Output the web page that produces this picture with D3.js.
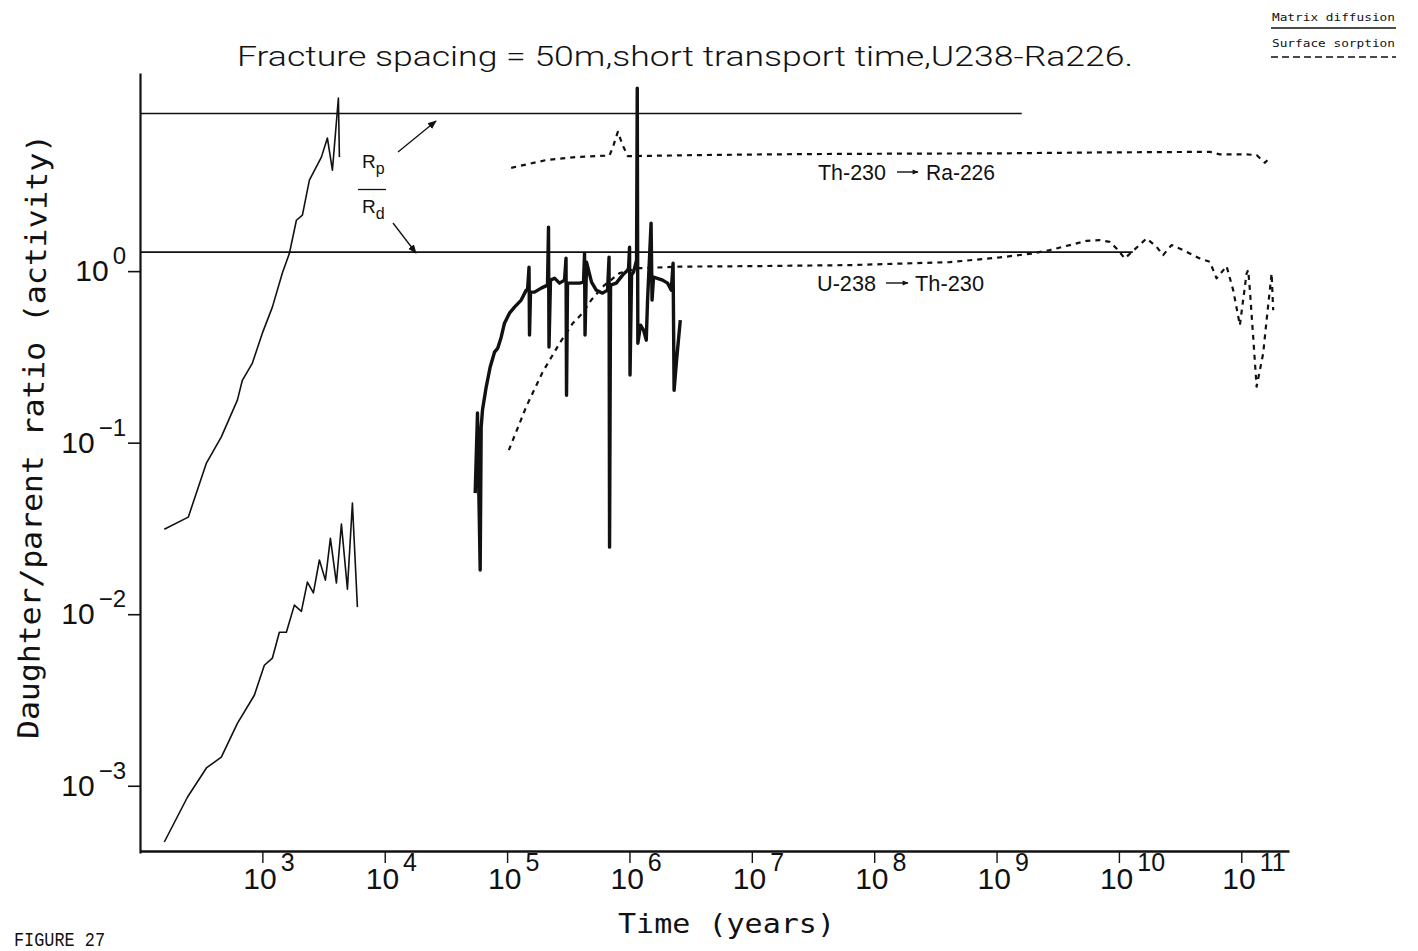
<!DOCTYPE html>
<html><head><meta charset="utf-8">
<script src="https://cdn.jsdelivr.net/npm/d3@7"></script>
<style>body{margin:0;background:#fff}svg{display:block}</style>
</head><body>
<svg id="chart" width="1418" height="951"></svg>
<script>
// ---------- data ----------
const xTickExponents = [3, 4, 5, 6, 7, 8, 9, 10, 11];
const yTickExponents = [0, -1, -2, -3];

// thin solid curve, upper left
const solidATime  = [158, 248, 349, 462, 625, 686, 829, 1000, 1207, 1457, 1663, 1897, 2124, 2423, 3037, 3400, 3736, 4182, 4262];
const solidARatio = [0.0313, 0.0368, 0.0760, 0.108, 0.177, 0.231, 0.291, 0.435, 0.617, 0.974, 1.27, 1.98, 2.12, 3.39, 4.62, 5.97, 3.88, 10.2, 4.62];

// thin solid curve, lower left
const solidBTime  = [158, 244, 349, 462, 625, 860, 1038, 1207, 1377, 1571, 1826, 2084, 2333, 2612, 2925, 3274, 3597, 4029, 4426, 4955, 5443, 5981];
const solidBRatio = [4.70e-4, 8.57e-4, 1.27e-3, 1.47e-3, 2.31e-3, 3.37e-3, 5.04e-3, 5.54e-3, 7.85e-3, 7.85e-3, 0.0113, 0.0104, 0.0154, 0.0133, 0.0207, 0.0158, 0.0277, 0.0152, 0.0335, 0.0140, 0.0444, 0.0110];

// heavy solid curve (matrix diffusion)
const solidCTime  = [54860, 57280, 60260, 61400, 62930, 67480, 72740, 78890, 83950, 89480,
  95220, 104600, 115000, 130400, 143300, 146900, 151100, 152500, 155400, 167500,
  190000, 213900, 218000, 220000, 226300, 244100, 268200, 294700, 303100, 306000,
  311800, 342400, 390800, 421400, 429500, 433500, 445900, 489900, 535200, 602600,
  662200, 681200, 687700, 700700, 780100, 878400, 965000, 983100, 1002000, 1011000,
  1040000, 1080000, 1143000, 1158000, 1171000, 1232000, 1304000, 1372000, 1406000, 1502000,
  1530000, 1574000, 1865000, 2049000, 2197000, 2273000, 2316000, 2427000, 2603000];
const solidCRatio = [0.0508, 0.149, 0.0181, 0.123, 0.155, 0.211, 0.276, 0.337, 0.356, 0.412,
  0.497, 0.569, 0.617, 0.678, 0.775, 0.775, 1.055, 0.424, 0.754, 0.754,
  0.796, 0.829, 1.805, 0.361, 0.886, 0.910, 0.851, 0.886, 1.191, 0.189,
  0.851, 0.851, 0.851, 0.863, 1.273, 0.424, 1.128, 0.863, 0.775, 0.744,
  0.775, 1.207, 0.0246, 0.829, 0.851, 0.948, 1.013, 1.041, 1.380, 0.248,
  0.948, 0.987, 1.159, 11.67, 0.380, 0.484, 0.453, 0.396, 0.678, 1.905,
  0.678, 0.923, 0.886, 0.851, 0.775, 1.113, 0.202, 0.303, 0.518];

// dashed curve U-238 -> Th-230 (surface sorption)
const dashedUTime  = [1.033e5, 1.433e5, 1.958e5, 2.682e5, 3.444e5, 4.135e5, 4.871e5, 6.257e5, 8.299e5, 1.2095e6,
  2.568e6, 9.594e6, 6.306e7, 4.143e8, 1.062e9, 1.977e9, 2.723e9, 3.968e9, 5.433e9, 6.982e9,
  8.425e9, 9.559e9, 1.117e10, 1.307e10, 1.682e10, 2.030e10, 2.298e10, 2.692e10, 3.350e10, 4.587e10,
  5.537e10, 6.281e10, 7.582e10, 8.588e10, 9.741e10, 1.105e11, 1.139e11, 1.176e11, 1.251e11, 1.334e11,
  1.510e11, 1.610e11, 1.770e11, 1.823e11];
const dashedURatio = [0.0904, 0.162, 0.259, 0.379, 0.497, 0.569, 0.678, 0.829, 0.974, 1.041,
  1.062, 1.069, 1.084, 1.128, 1.202, 1.268, 1.326, 1.418, 1.502, 1.516,
  1.482, 1.356, 1.186, 1.313, 1.551, 1.386, 1.240, 1.418, 1.326, 1.186,
  1.133, 0.907, 1.069, 0.775, 0.484, 0.970, 1.013, 0.775, 0.414, 0.212,
  0.331, 0.518, 0.970, 0.592];

// dashed curve Th-230 -> Ra-226 (surface sorption)
const dashedThTime  = [1.080e5, 2.088e5, 3.673e5, 6.877e5, 7.413e5, 8.038e5, 8.784e5, 9.703e5, 3.743e6, 2.459e7,
  1.616e8, 1.062e9, 6.982e9, 5.537e10, 6.683e10, 1.105e11, 1.334e11, 1.559e11, 1.737e11];
const dashedThRatio = [4.00, 4.44, 4.62, 4.72, 5.43, 6.49, 5.43, 4.68, 4.75, 4.81,
  4.84, 4.86, 4.92, 4.96, 4.79, 4.79, 4.75, 4.28, 4.64];

// Rp/Rd reference levels
const refRatio   = [8.3, 1.29];
const refEndTime = [1.607e9, 1.30e10];

const titleText = "Fracture spacing = 50m,short transport time,U238-Ra226.";
const xLabel = "Time (years)";
const yLabel = "Daughter/parent ratio (activity)";
const legendLabels = ["Matrix diffusion", "Surface sorption"];
const curveLabelParents = ["Th-230", "U-238"];
const curveLabelDaughters = ["Ra-226", "Th-230"];
const figureLabel = "FIGURE  27";

// ---------- drawing ----------
const svg = d3.select('#chart');
const ink = '#111';
const x = d3.scaleLog().domain([1e2, Math.pow(10, 11.39)]).range([140, 1289]);
const y = d3.scaleLog().domain([Math.pow(10, -3.392), Math.pow(10, 1.155)]).range([853, 73]);

const defs = svg.append('defs');
defs.append('marker').attr('id', 'ah').attr('viewBox', '0 0 10 10')
  .attr('refX', 9).attr('refY', 5).attr('markerWidth', 9).attr('markerHeight', 9)
  .attr('orient', 'auto').attr('markerUnits', 'userSpaceOnUse')
  .append('path').attr('d', 'M0,1 L10,5 L0,9 Z').attr('fill', ink);
defs.append('marker').attr('id', 'ahs').attr('viewBox', '0 0 10 10')
  .attr('refX', 9).attr('refY', 5).attr('markerWidth', 8).attr('markerHeight', 6)
  .attr('orient', 'auto').attr('markerUnits', 'userSpaceOnUse')
  .append('path').attr('d', 'M0,1 L10,5 L0,9 Z').attr('fill', ink);

// axes
const xAxis = d3.axisBottom(x).tickValues(xTickExponents.map(e => Math.pow(10, e)))
  .tickSize(12).tickSizeOuter(0).tickFormat('');
svg.append('g').attr('transform', 'translate(0,851)').call(xAxis)
  .call(g => g.select('.domain').attr('stroke', ink).attr('stroke-width', 2.6))
  .call(g => g.selectAll('.tick line').attr('stroke', ink).attr('stroke-width', 1.4));

const yAxis = d3.axisLeft(y).tickValues(yTickExponents.map(e => Math.pow(10, e)))
  .tickSize(12).tickSizeOuter(0).tickFormat('');
svg.append('g').attr('transform', 'translate(140,0)').call(yAxis)
  .call(g => g.select('.domain').attr('stroke', ink).attr('stroke-width', 2.2))
  .call(g => g.selectAll('.tick line').attr('stroke', ink).attr('stroke-width', 1.6));

// x tick labels
const labFont = 'Liberation Sans, Arial, sans-serif';
xTickExponents.forEach(e => {
  const t = svg.append('text').attr('x', x(Math.pow(10, e)) - 19).attr('y', 889)
    .attr('font-family', labFont).attr('fill', ink);
  t.append('tspan').attr('font-size', 30).text('10');
  t.append('tspan').attr('font-size', 25).attr('dx', 4).attr('dy', -18).text(String(e));
});
// y tick labels
yTickExponents.forEach(e => {
  const t = svg.append('text').attr('x', 126).attr('y', y(Math.pow(10, e)) + 10)
    .attr('text-anchor', 'end').attr('font-family', labFont).attr('fill', ink);
  t.append('tspan').attr('font-size', 30).text('10');
  t.append('tspan').attr('font-size', 24).attr('dx', 4).attr('dy', -17)
    .text(e < 0 ? '\u2212' + Math.abs(e) : String(e));
});

// reference lines Rp/Rd
refRatio.forEach((v, i) => {
  svg.append('line').attr('x1', x(1e2)).attr('x2', x(refEndTime[i]))
    .attr('y1', y(v)).attr('y2', y(v)).attr('stroke', ink).attr('stroke-width', 1.6);
});

// curves
const line = d3.line().x(d => x(d[0])).y(d => y(d[1]));
function drawCurve(times, ratios, width, dash) {
  const pts = times.map((t, i) => [t, ratios[i]]);
  const p = svg.append('path').datum(pts).attr('d', line).attr('fill', 'none')
    .attr('stroke', ink).attr('stroke-width', width)
    .attr('stroke-linejoin', 'round').attr('stroke-linecap', 'butt');
  if (dash) p.attr('stroke-dasharray', dash);
  return p;
}
drawCurve(dashedUTime, dashedURatio, 2.2, '5,5');
drawCurve(dashedThTime, dashedThRatio, 2.2, '5,5');
drawCurve(solidATime, solidARatio, 1.6);
drawCurve(solidBTime, solidBRatio, 1.6);
drawCurve(solidCTime, solidCRatio, 3.4);

// Rp / Rd annotation
const ann = svg.append('g').attr('font-family', labFont).attr('fill', ink);
const r1 = ann.append('text').attr('x', 362).attr('y', 168);
r1.append('tspan').attr('font-size', 19).text('R');
r1.append('tspan').attr('font-size', 16).attr('dy', 6).text('p');
ann.append('line').attr('x1', 358).attr('x2', 386).attr('y1', 189.5).attr('y2', 189.5)
  .attr('stroke', ink).attr('stroke-width', 1.3);
const r2 = ann.append('text').attr('x', 362).attr('y', 213);
r2.append('tspan').attr('font-size', 19).text('R');
r2.append('tspan').attr('font-size', 16).attr('dy', 6).text('d');
svg.append('line').attr('x1', 398).attr('y1', 152).attr('x2', 436).attr('y2', 121)
  .attr('stroke', ink).attr('stroke-width', 1.3).attr('marker-end', 'url(#ah)');
svg.append('line').attr('x1', 393).attr('y1', 223).attr('x2', 416).attr('y2', 253)
  .attr('stroke', ink).attr('stroke-width', 1.3).attr('marker-end', 'url(#ah)');

// curve labels "parent -> daughter"
const labelBase = [180, 291];
const labelLeft = [818, 817];
const labelParentW = [68, 59];
const labelArrow = [[897, 918], [886, 908]];
const labelDaughterX = [926, 915];
curveLabelParents.forEach((p, i) => {
  svg.append('text').attr('x', labelLeft[i]).attr('y', labelBase[i]).attr('font-family', labFont)
    .attr('font-size', 22).attr('fill', ink).attr('textLength', labelParentW[i])
    .attr('lengthAdjust', 'spacingAndGlyphs').text(p);
  svg.append('line').attr('x1', labelArrow[i][0]).attr('x2', labelArrow[i][1])
    .attr('y1', labelBase[i] - 8).attr('y2', labelBase[i] - 8)
    .attr('stroke', ink).attr('stroke-width', 1.4).attr('marker-end', 'url(#ahs)');
  svg.append('text').attr('x', labelDaughterX[i]).attr('y', labelBase[i]).attr('font-family', labFont)
    .attr('font-size', 22).attr('fill', ink).attr('textLength', 69)
    .attr('lengthAdjust', 'spacingAndGlyphs').text(curveLabelDaughters[i]);
});

// title
svg.append('text').attr('x', 237).attr('y', 66)
  .attr('font-family', 'Roboto, Liberation Sans, sans-serif').attr('font-weight', 300)
  .attr('font-size', 27).attr('fill', ink).attr('textLength', 896).attr('lengthAdjust', 'spacingAndGlyphs')
  .text(titleText);

// axis titles
svg.append('text').attr('x', 618).attr('y', 933)
  .attr('font-family', 'DejaVu Sans Mono, monospace').attr('font-size', 27).attr('fill', ink)
  .attr('textLength', 217).attr('lengthAdjust', 'spacingAndGlyphs').text(xLabel);
svg.append('text').attr('transform', 'translate(43,437) rotate(-89.1)')
  .attr('x', -302).attr('y', 0)
  .attr('font-family', 'DejaVu Sans Mono, monospace').attr('font-size', 29).attr('fill', ink)
  .attr('textLength', 605).attr('lengthAdjust', 'spacingAndGlyphs').text(yLabel);

// figure label
svg.append('text').attr('x', 14).attr('y', 946)
  .attr('font-family', 'Liberation Mono, Courier New, monospace').attr('font-size', 21).attr('fill', ink)
  .attr('textLength', 91).attr('lengthAdjust', 'spacingAndGlyphs').text(figureLabel);

// legend (top right)
const leg = svg.append('g');
leg.append('text').attr('x', 1272).attr('y', 21).attr('font-family', 'DejaVu Sans Mono, monospace')
  .attr('font-size', 11).attr('fill', ink).attr('textLength', 123).attr('lengthAdjust', 'spacingAndGlyphs')
  .text(legendLabels[0]);
leg.append('line').attr('x1', 1271).attr('x2', 1396).attr('y1', 28).attr('y2', 28)
  .attr('stroke', ink).attr('stroke-width', 1.4);
leg.append('text').attr('x', 1272).attr('y', 47).attr('font-family', 'DejaVu Sans Mono, monospace')
  .attr('font-size', 11).attr('fill', ink).attr('textLength', 123).attr('lengthAdjust', 'spacingAndGlyphs')
  .text(legendLabels[1]);
leg.append('line').attr('x1', 1271).attr('x2', 1396).attr('y1', 57).attr('y2', 57)
  .attr('stroke', ink).attr('stroke-width', 1.4).attr('stroke-dasharray', '7,4');
</script>
</body></html>
